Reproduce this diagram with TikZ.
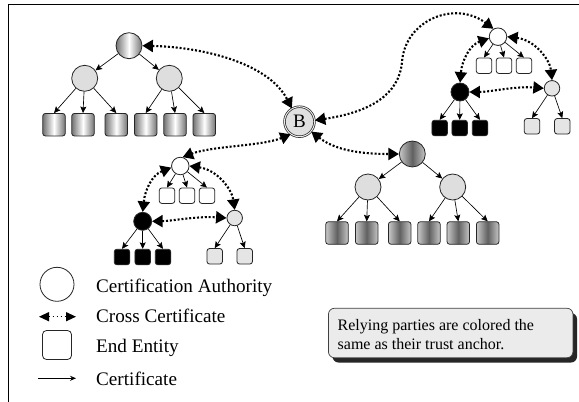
\documentclass[tikz,border=0pt]{standalone}
\usepackage{fontspec}
\setmainfont{Liberation Serif}
\usetikzlibrary{arrows.meta,shadings}
\tikzset{
 x=1pt,y=-1pt,
 circ/.style={circle,draw=black!85,line width=.8pt,inner sep=0,minimum size=#1},
 leaf/.style={rectangle,rounded corners=2.6pt,draw=black!85,line width=.8pt,inner sep=0,minimum size=#1},
 bigcol/.style={fill=black!13},
 pale/.style={fill=black!10},
 gradA/.style={left color=black!55,right color=black!55,middle color=white},
 gradB/.style={left color=black!22,right color=black!22,middle color=black!62},
 cert/.style={-{Stealth[length=6.5pt,width=6pt,inset=1.2pt]},line width=.65pt,black},
 cross/.style={{Triangle[length=10.5pt,width=12pt]}-{Triangle[length=10.5pt,width=12pt]},line width=2.1pt,dash pattern=on 2pt off 1.9pt,black},
 lbl/.style={anchor=base west,inner sep=0,font=\fontsize{19.15}{21}\selectfont},
}
\begin{document}
\begin{tikzpicture}
\useasboundingbox (0,0) rectangle (579,402);
\fill[white] (0,0) rectangle (579,402);
\coordinate (fa) at (8,402); \coordinate (fb) at (8,4); \coordinate (fc) at (579,4);
\draw[line width=.8pt] (fa) -- (fb) -- (fc);
% tree 1
\node[circ=26pt,gradA] (r1) at (129,45.7) {};
\node[circ=26pt,bigcol] (m1) at (84.7,78.3) {};
\node[circ=26pt,bigcol] (m2) at (169.3,78.3) {};
\foreach \n/\x in {a/54,b/83,c/116.3,d/145.7,e/175,f/204.3}
  \node[leaf=22.5pt,gradA] (l\n) at (\x,124.7) {};
\draw[cert] (r1) -- (m1); \draw[cert] (r1) -- (m2);
\draw[cert] (m1) -- (la.north); \draw[cert] (m1) -- (lb.north); \draw[cert] (m1) -- (lc.north);
\draw[cert] (m2) -- (ld.north); \draw[cert] (m2) -- (le.north); \draw[cert] (m2) -- (lf.north);
% tree 2
\node[circ=26pt,gradB] (r2) at (412.3,154) {};
\node[circ=26pt,bigcol] (n1) at (368,187) {};
\node[circ=26pt,bigcol] (n2) at (452.7,187) {};
\foreach \n/\x in {a/337,b/366.7,c/399.7,d/429,e/458.3,f/487.7}
  \node[leaf=22.5pt,gradB] (k\n) at (\x,233) {};
\draw[cert] (r2) -- (n1); \draw[cert] (r2) -- (n2);
\draw[cert] (n1) -- (ka.north); \draw[cert] (n1) -- (kb.north); \draw[cert] (n1) -- (kc.north);
\draw[cert] (n2) -- (kd.north); \draw[cert] (n2) -- (ke.north); \draw[cert] (n2) -- (kf.north);
% B
\node[circle,draw=black!85,double=black!8,double distance=1pt,line width=.7pt,fill=black!12,minimum size=30pt,inner sep=0,font=\fontsize{19}{21}\selectfont] (B) at (299.5,121.7) {B};
% tree 3 (top right)
\node[circ=17.5pt,fill=white] (t) at (498,36.7) {};
\foreach \n/\x in {a/484,b/504,c/524}
  \node[leaf=15.5pt,fill=white] (t\n) at (\x,65.7) {};
\node[circ=18pt,fill=black] (tk) at (460,92) {};
\node[circ=15.5pt,pale] (tg) at (552,88.3) {};
\foreach \n/\x in {a/439.7,b/459.7,c/480}
  \node[leaf=15.5pt,fill=black] (tk\n) at (\x,128) {};
\foreach \n/\x in {a/532,b/562.3}
  \node[leaf=15.5pt,pale] (tg\n) at (\x,126.3) {};
\draw[cert] (t) -- (ta.north); \draw[cert] (t) -- (tb.north); \draw[cert] (t) -- (tc.north);
\draw[cert] (tk) -- (tka.north); \draw[cert] (tk) -- (tkb.north); \draw[cert] (tk) -- (tkc.north);
\draw[cert] (tg) -- (tga.north); \draw[cert] (tg) -- (tgb.north);
% tree 4 (bottom left)
\node[circ=17.5pt,fill=white] (u) at (180.3,166) {};
\foreach \n/\x in {a/167,b/187,c/207}
  \node[leaf=15.5pt,fill=white] (u\n) at (\x,195.7) {};
\node[circ=18pt,fill=black] (uk) at (142.7,221.3) {};
\node[circ=15.5pt,pale] (ug) at (234.7,218) {};
\foreach \n/\x in {a/122,b/142.7,c/163}
  \node[leaf=15.5pt,fill=black] (uk\n) at (\x,257) {};
\foreach \n/\x in {a/214.7,b/244.7}
  \node[leaf=15.5pt,pale] (ug\n) at (\x,256.3) {};
\draw[cert] (u) -- (ua.north); \draw[cert] (u) -- (ub.north); \draw[cert] (u) -- (uc.north);
\draw[cert] (uk) -- (uka.north); \draw[cert] (uk) -- (ukb.north); \draw[cert] (uk) -- (ukc.north);
\draw[cert] (ug) -- (uga.north); \draw[cert] (ug) -- (ugb.north);
% cross certificates
\draw[cross] (r1.east) .. controls (200,47) and (268,62) .. (B.120);
\draw[cross] (B.5) .. controls (370,112) and (399,95) .. (402,62) .. controls (405,20) and (455,0) .. (t.120);
\draw[cross] (B.320) .. controls (335,150) and (360,154) .. (r2.west);
\draw[cross] (B.235) .. controls (262,146) and (212,146) .. (u.75);
\draw[cross] (t.190) .. controls (470,45) and (462,60) .. (tk.90);
\draw[cross] (t.east) .. controls (535,40) and (550,60) .. (tg.90);
\draw[cross] (tk.east) .. controls (490,92) and (515,86) .. (tg.west);
\draw[cross] (u.190) .. controls (152,175) and (145,190) .. (uk.90);
\draw[cross] (u.east) .. controls (218,170) and (232,190) .. (ug.90);
\draw[cross] (uk.east) .. controls (172,221) and (197,216) .. (ug.west);
% legend
\node[circ=34pt,fill=white] (lg1) at (57,284.3) {};
\node[lbl] (tx1) at (96,292) {Certification Authority};
\coordinate (ca) at (39,316.7); \coordinate (cb) at (76,316.7);
\draw[cross,line width=1.3pt,dash pattern=on 1.6pt off 2.4pt,{Triangle[length=10pt,width=9pt]}-{Triangle[length=10pt,width=9pt]}] (ca) -- (cb);
\node[lbl] (tx2) at (96,322.5) {Cross Certificate};
\node[leaf=29pt,fill=white,rounded corners=4pt] (lg3) at (57,345) {};
\node[lbl] (tx3) at (96,352) {End Entity};
\coordinate (da) at (38,378.3); \coordinate (db) at (76,378.3);
\draw[-{Stealth[length=6pt,width=5pt]},line width=.7pt] (da) -- (db);
\node[lbl] (tx4) at (96,385.5) {Certificate};
% callout
\fill[black!85,rounded corners=6pt] (332.5,313) rectangle (577,362.5);
\node[rectangle,draw=black!75,line width=.7pt,fill=black!8,rounded corners=6pt,minimum width=244.5pt,minimum height=49.5pt,inner sep=0] (note) at (450.7,333) {};
\node[anchor=base west,inner sep=0,font=\fontsize{16}{19}\selectfont] (n1t) at (337.5,330) {Relying parties are colored the};
\node[anchor=base west,inner sep=0,font=\fontsize{16}{19}\selectfont] (n2t) at (337.5,349) {same as their trust anchor.};
\end{tikzpicture}
\end{document}
